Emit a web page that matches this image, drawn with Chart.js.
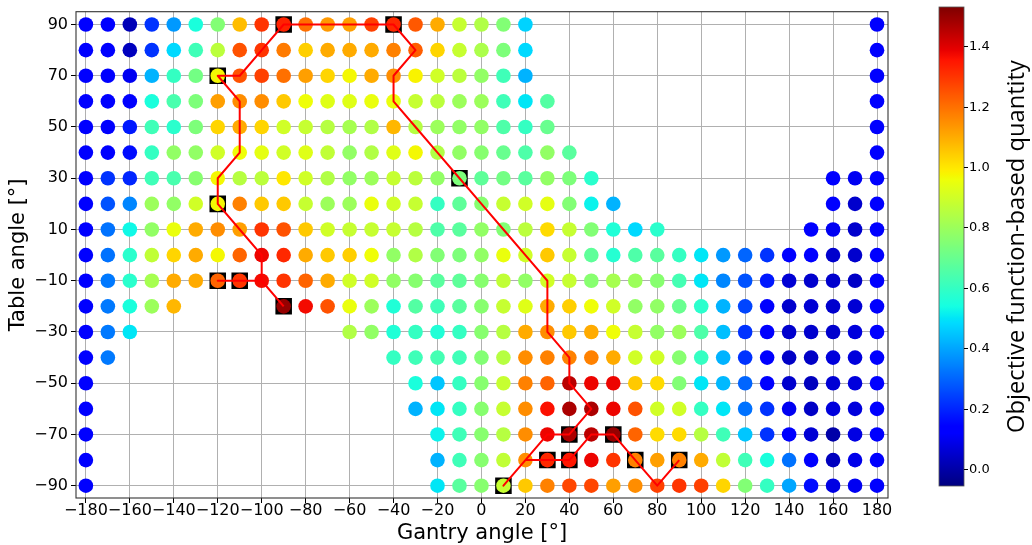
<!DOCTYPE html>
<html>
<head>
<meta charset="utf-8">
<script src="https://cdn.jsdelivr.net/npm/chart.js@4.4.1/dist/chart.umd.min.js"></script>
<style>
  html, body { margin: 0; padding: 0; background: #fff; }
</style>
</head>
<body>
<canvas id="angleMap" width="1032" height="545"></canvas>
<script>
const _ = null;

// grid of candidate beam directions
const gantryAngles = [-180, -170, -160, -150, -140, -130, -120, -110, -100, -90, -80, -70, -60, -50, -40, -30, -20, -10,
  0, 10, 20, 30, 40, 50, 60, 70, 80, 90, 100, 110, 120, 130, 140, 150, 160, 170, 180];
const tableAngles = [90, 80, 70, 60, 50, 40, 30, 20, 10, 0, -10, -20, -30, -40, -50, -60, -70, -80, -90];

// objective function-based quantity, one row per table angle (null = not allowed)
const quantity = [
  [.13,.12,.02,.22,.38,.55,.75,1.07,1.30,1.33,1.20,1.13,1.12,1.28,1.32,1.24,1.10,.88,.84,.75,.47,_,_,_,_,_,_,_,_,_,_,_,_,_,_,_,.13],
  [.13,.12,.03,.22,.48,.62,.86,1.25,1.30,1.18,1.04,1.10,1.10,1.10,1.17,1.23,1.03,.88,.83,.74,.48,_,_,_,_,_,_,_,_,_,_,_,_,_,_,_,.13],
  [.13,.12,.10,.42,.60,.72,.97,1.25,1.28,1.20,1.12,1.03,.97,1.10,1.15,.98,.90,.86,.78,.62,.42,_,_,_,_,_,_,_,_,_,_,_,_,_,_,_,.13],
  [.13,.12,.13,.55,.64,.74,1.12,1.15,1.15,1.05,.96,.93,.93,.95,.95,.88,.86,.80,.80,.62,.50,.66,_,_,_,_,_,_,_,_,_,_,_,_,_,_,.13],
  [.14,.13,.18,.62,.58,.74,1.03,1.10,1.03,.90,.88,.85,.82,.84,1.08,.85,.80,.78,.78,.65,.60,.70,_,_,_,_,_,_,_,_,_,_,_,_,_,_,.13],
  [.13,.12,.16,.60,.78,.78,.90,.96,.94,.90,.93,.87,.78,.84,.93,.97,.84,.78,.76,.70,.65,.78,.67,_,_,_,_,_,_,_,_,_,_,_,_,_,.13],
  [.14,.22,.20,.62,.64,.76,.97,.85,.86,1.00,.90,.84,.78,.80,.88,.86,.78,.74,.68,.72,.67,.78,.74,.58,_,_,_,_,_,_,_,_,_,_,.13,.10,.13],
  [.14,.27,.35,.80,.78,.90,.97,1.17,1.05,1.05,.88,.80,.80,.95,.90,.88,.60,.68,.76,.88,.90,.94,.75,.52,.42,_,_,_,_,_,_,_,_,_,.13,.05,.13],
  [.14,.32,.53,.78,.95,1.10,1.15,1.12,1.30,1.25,1.05,.90,.88,.88,.88,.85,.65,.67,.78,.75,.86,1.02,.88,.75,.56,.48,.58,_,_,_,_,_,_,.14,.10,.05,.12],
  [.14,.32,.58,.87,1.03,1.10,.97,1.22,1.38,1.32,1.10,1.05,1.04,.96,.78,.84,.75,.74,.78,.95,.90,1.05,.88,.68,.57,.65,.67,.60,.50,.38,.30,.22,.14,.13,.05,.05,.13],
  [.14,.33,.58,.82,1.10,1.10,1.22,1.30,1.37,1.30,1.22,1.10,.90,.90,.78,.76,.67,.68,.76,.87,.78,.90,.88,.76,.82,.80,.76,.63,.50,.35,.27,.18,.06,.05,.05,.04,.13],
  [.13,.33,.55,.80,1.08,_,_,_,_,1.50,1.37,1.25,.95,.80,.56,.66,.62,.67,.76,.88,.93,1.10,1.04,.96,.90,.78,.78,.70,.58,.42,.25,.13,.05,.06,.05,.06,.13],
  [.13,.33,.50,_,_,_,_,_,_,_,_,_,.84,.78,.56,.60,.56,.60,.76,.85,1.10,1.15,1.05,1.10,.96,.88,.78,.80,.65,.44,.22,.12,.05,.05,.05,.07,.13],
  [.13,.33,_,_,_,_,_,_,_,_,_,_,_,_,.60,.62,.63,.62,.75,.85,1.15,1.17,1.17,1.17,1.10,.90,.90,.76,.60,.42,.22,.12,.04,.04,.07,.07,.13],
  [.13,_,_,_,_,_,_,_,_,_,_,_,_,_,_,.55,.45,.60,.76,.88,1.17,1.22,1.45,1.38,1.38,1.05,1.02,.75,.50,.43,.30,.13,.05,.03,.06,.07,.13],
  [.13,_,_,_,_,_,_,_,_,_,_,_,_,_,_,.42,.50,.60,.76,.88,1.15,1.36,1.47,1.47,1.38,1.25,.90,.90,.60,.50,.32,.22,.10,.04,.07,.07,.13],
  [.13,_,_,_,_,_,_,_,_,_,_,_,_,_,_,_,.52,.62,.76,.85,1.15,1.38,1.47,1.45,1.50,1.22,1.02,1.02,.85,.62,.45,.22,.13,.06,.00,.08,.13],
  [.13,_,_,_,_,_,_,_,_,_,_,_,_,_,_,_,.42,.62,.76,.87,1.15,1.32,1.35,1.38,1.30,1.17,1.12,1.17,1.10,.87,.62,.55,.32,.12,.03,.09,.13],
  [.14,_,_,_,_,_,_,_,_,_,_,_,_,_,_,_,.50,.67,.76,.88,1.05,1.17,1.27,1.27,1.12,1.15,1.28,1.30,1.28,1.03,.75,.60,.40,.16,.08,.10,.14]
];

// selected beams
const beamGantry = [-90, -40, -120, -120, -120, -110, -90, -10, 40, 60, 30, 40, 70, 90, 10];
const beamTable = [90, 90, 70, 20, -10, -10, -20, 30, -70, -70, -80, -80, -80, -80, -90];

// trajectory connecting the beams
const pathGantry = [-90, -100, -110, -120, -110, -100, -100, -110, -120, -120, -110, -110, -110, -120, -110, -100,
  -90, -80, -70, -60, -50, -40, -30, -40, -40, -30, -20, -10, 0, 10, 20, 30, 30, 30, 40, 40, 50, 40, 30, 20, 10,
  20, 30, 40, 50, 60, 70, 80, 90];
const pathTable = [-20, -10, -10, -10, -10, -10, 0, 10, 20, 30, 40, 50, 60, 70, 70, 80,
  90, 90, 90, 90, 90, 90, 80, 70, 60, 50, 40, 30, 20, 10, 0, -10, -20, -30, -40, -50, -60, -70, -70, -80, -90,
  -80, -80, -80, -70, -70, -80, -90, -80];

const gantryTicks = [-180, -160, -140, -120, -100, -80, -60, -40, -20, 0, 20, 40, 60, 80, 100, 120, 140, 160, 180];
const tableTicks = [90, 70, 50, 30, 10, -10, -30, -50, -70, -90];
const colorTicks = [0.0, 0.2, 0.4, 0.6, 0.8, 1.0, 1.2, 1.4];
const cMin = -0.056, cMax = 1.53;

// matplotlib "jet"
const jetR = [[0, 0], [0.35, 0], [0.66, 1], [0.89, 1], [1, 0.5]];
const jetG = [[0, 0], [0.125, 0], [0.375, 1], [0.64, 1], [0.91, 0], [1, 0]];
const jetB = [[0, 0.5], [0.11, 1], [0.34, 1], [0.65, 0], [1, 0]];

function lerpTable(tbl, n) {
  for (let i = 1; i < tbl.length; i++) {
    if (n <= tbl[i][0]) {
      const [x0, y0] = tbl[i - 1], [x1, y1] = tbl[i];
      return y0 + (y1 - y0) * (n - x0) / (x1 - x0);
    }
  }
  return tbl[tbl.length - 1][1];
}
function jetAt(n) {
  n = Math.min(1, Math.max(0, n));
  const c = t => Math.round(255 * lerpTable(t, n));
  return `rgb(${c(jetR)},${c(jetG)},${c(jetB)})`;
}
const jet = v => jetAt((v - cMin) / (cMax - cMin));

const gridPts = [], gridColors = [];
tableAngles.forEach((t, r) => {
  gantryAngles.forEach((g, c) => {
    const v = quantity[r][c];
    if (v === null) return;
    gridPts.push({ x: g, y: t });
    gridColors.push(jet(v));
  });
});

const minus = v => (v < 0 ? '\u2212' + Math.abs(v) : String(v));
const tickFont = { family: "'DejaVu Sans'", size: 16, lineHeight: 1 };
const titleFont = { family: "'DejaVu Sans'", size: 21, lineHeight: 1.1 };

const colorbar = {
  id: 'colorbar',
  afterDraw(chart) {
    const ctx = chart.ctx;
    const { left, top, right, bottom } = chart.chartArea;
    ctx.save();
    // frame around the axes
    ctx.strokeStyle = '#333';
    ctx.lineWidth = 1.1;
    ctx.strokeRect(left, top, right - left, bottom - top);

    const x0 = 939, x1 = 964, yTop = 7, yBot = 486;
    const grad = ctx.createLinearGradient(0, yBot, 0, yTop);
    for (let i = 0; i <= 200; i++) grad.addColorStop(i / 200, jetAt(i / 200));
    ctx.fillStyle = grad;
    ctx.fillRect(x0, yTop, x1 - x0, yBot - yTop);
    ctx.strokeStyle = '#555';
    ctx.lineWidth = 0.8;
    ctx.strokeRect(x0, yTop, x1 - x0, yBot - yTop);

    const yOf = v => yBot - (v - cMin) / (cMax - cMin) * (yBot - yTop);
    ctx.fillStyle = '#000';
    ctx.strokeStyle = '#000';
    ctx.lineWidth = 1;
    ctx.font = "13px 'DejaVu Sans'";
    ctx.textAlign = 'left';
    ctx.textBaseline = 'middle';
    colorTicks.forEach(v => {
      const y = Math.round(yOf(v)) + 0.5;
      ctx.beginPath();
      ctx.moveTo(x1, y);
      ctx.lineTo(x1 + 4, y);
      ctx.stroke();
      ctx.fillText(v.toFixed(1), x1 + 5, y);
    });

    ctx.translate(1017, (yTop + yBot) / 2);
    ctx.rotate(-Math.PI / 2);
    ctx.textAlign = 'center';
    ctx.font = "23.7px 'Open Sans'";
    ctx.fillText('Objective function-based quantity', 0, 0);
    ctx.restore();
  }
};

new Chart(document.getElementById('angleMap'), {
  type: 'scatter',
  data: {
    datasets: [
      {
        label: 'path',
        data: pathGantry.map((g, i) => ({ x: g, y: pathTable[i] })),
        showLine: true,
        borderColor: '#ff0000',
        borderWidth: 2,
        borderJoinStyle: 'round',
        pointRadius: 0,
        tension: 0,
        order: 1
      },
      {
        label: 'grid',
        data: gridPts,
        backgroundColor: gridColors,
        pointRadius: 7.3,
        pointBorderWidth: 0,
        order: 2
      },
      {
        label: 'beams',
        data: beamGantry.map((g, i) => ({ x: g, y: beamTable[i] })),
        pointStyle: 'rect',
        pointRadius: 11.7,
        backgroundColor: '#000',
        pointBorderWidth: 0,
        order: 3
      }
    ]
  },
  options: {
    responsive: false,
    devicePixelRatio: 1,
    animation: false,
    events: [],
    layout: { padding: { top: 7, right: 144, left: 0, bottom: 0 } },
    plugins: { legend: { display: false }, tooltip: { enabled: false } },
    scales: {
      x: {
        type: 'linear',
        min: -184.5,
        max: 185,
        z: 1,
        afterBuildTicks: s => { s.ticks = gantryTicks.map(v => ({ value: v })); },
        afterFit: s => { s.height = 47; },
        border: { display: false },
        grid: { color: '#b0b0b0', lineWidth: 1, tickColor: '#000', tickLength: 5, tickWidth: 1 },
        ticks: { font: tickFont, color: '#000', padding: 0, autoSkip: false, maxRotation: 0, callback: minus },
        title: { display: true, text: 'Gantry angle [°]', font: titleFont, color: '#000', padding: 0 }
      },
      y: {
        type: 'linear',
        min: -94.8,
        max: 95,
        z: 1,
        afterBuildTicks: s => { s.ticks = tableTicks.map(v => ({ value: v })); },
        afterFit: s => { s.width = 76; },
        border: { display: false },
        grid: { color: '#b0b0b0', lineWidth: 1, tickColor: '#000', tickLength: 5, tickWidth: 1 },
        ticks: { font: { family: "'DejaVu Sans'", size: 16, lineHeight: 0.8 }, color: '#000', padding: 3, autoSkip: false, callback: minus },
        title: { display: true, text: 'Table angle [°]', font: titleFont, color: '#000', padding: { top: 7, bottom: 0 } }
      }
    }
  },
  plugins: [colorbar]
});
</script>
</body>
</html>
